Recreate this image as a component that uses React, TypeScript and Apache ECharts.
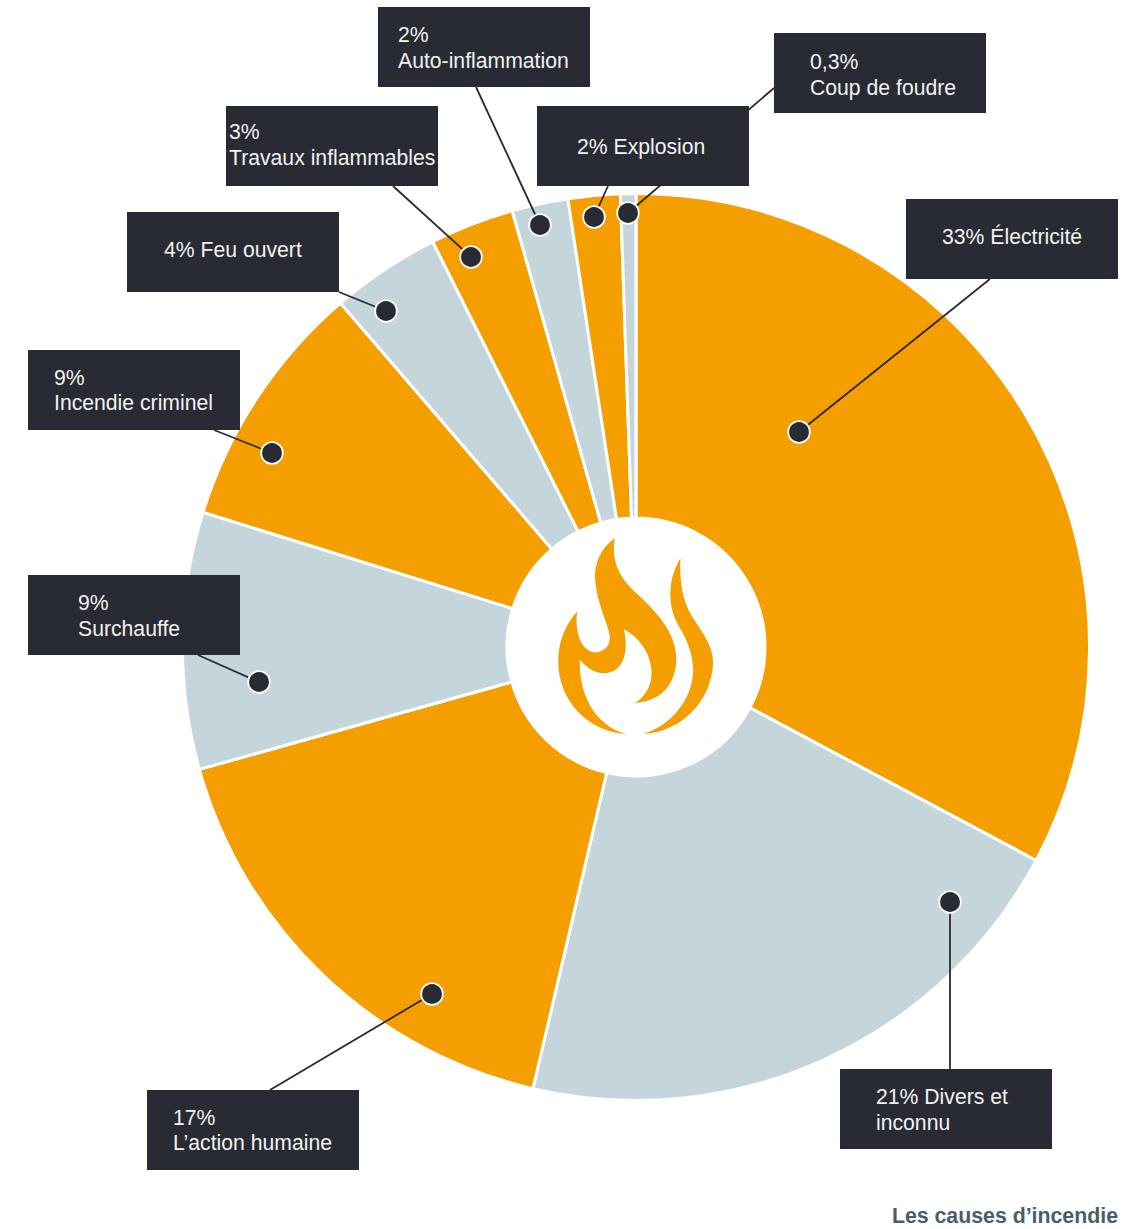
import React, { useEffect, useRef } from "react";
import * as echarts from "echarts";

const causes = ["Électricité", "Divers et inconnu", "L’action humaine", "Surchauffe", "Incendie criminel", "Feu ouvert", "Travaux inflammables", "Auto-inflammation", "Explosion", "Coup de foudre"];
const shares = [32.8, 20.85, 17, 9.15, 8.9, 3.9, 3, 2, 1.85, 0.55];
const shareLabels = ["33%", "21%", "17%", "9%", "9%", "4%", "3%", "2%", "2%", "0,3%"];
const textLines = [
  ["33% Électricité"],
  ["21% Divers et", "inconnu"],
  ["17%", "L’action humaine"],
  ["9%", "Surchauffe"],
  ["9%", "Incendie criminel"],
  ["4% Feu ouvert"],
  ["3%", "Travaux inflammables"],
  ["2%", "Auto-inflammation"],
  ["2% Explosion"],
  ["0,3%", "Coup de foudre"],
];
const title = "Les causes d’incendie";

const ORANGE = "#f59e00";
const BLUE = "#c4d6dc";
const DARK = "#282b33";
const sliceColors = [ORANGE, BLUE, ORANGE, BLUE, ORANGE, BLUE, ORANGE, BLUE, ORANGE, BLUE];

// layout only: box top-left, text x, line baselines centre y, leader start, dot
const boxPos = [[906, 199], [840, 1069], [147, 1090], [28, 575], [28, 350], [127, 212], [226, 106], [378, 7], [537, 106], [774, 33]];
const textX = [942, 876, 173, 78, 54, 164, 229, 398, 577, 810];
const textY = [[236], [1096, 1122], [1117, 1142], [602, 628], [377, 402], [249], [131, 157], [34, 60], [146], [61, 87]];
const leaderFrom = [[990, 279], [950, 1069], [270, 1090], [198, 655], [214, 430], [339, 292], [393, 186], [476, 87], [608, 186], [774, 88]];
const dots = [[799, 432], [950, 902], [432, 994], [259, 682], [272, 453], [386, 311], [471, 257], [540, 225], [594, 217], [628, 213]];

const flamePath =
  "M405 115C392 190 425 240 470 280C530 335 590 400 590 480C585 570 530 605 465 610C500 590 518 550 515 510C510 455 475 410 432 388C445 440 440 520 370 520C340 520 318 500 300 480C295 580 345 680 440 703C320 695 235 600 235 485C235 420 260 370 292 335C283 400 305 458 350 458C380 452 390 435 390 410C385 370 345 300 345 220C350 170 375 135 405 115Z" +
  "M602 175C598 250 610 310 640 355C670 400 700 440 700 490C695 600 610 695 490 703C570 680 640 600 640 510C640 450 610 400 595 375C575 340 570 300 572 270C575 225 590 195 602 175Z";

echarts.graphic.registerShape("flame", echarts.graphic.extendPath(flamePath, {}) as any);

export default function App() {
  const ref = useRef<HTMLDivElement>(null);
  useEffect(() => {
    const chart = echarts.init(ref.current!, undefined, { renderer: "svg" });
    const graphics: any[] = [];
    causes.forEach((_, i) => {
      graphics.push({
        type: "line",
        z: 10,
        shape: { x1: leaderFrom[i][0], y1: leaderFrom[i][1], x2: dots[i][0], y2: dots[i][1] },
        style: { stroke: DARK, lineWidth: 1.8 },
      });
    });
    causes.forEach((_, i) => {
      graphics.push({
        type: "rect",
        z: 11,
        shape: { x: boxPos[i][0], y: boxPos[i][1], width: 212, height: 80 },
        style: { fill: DARK },
      });
      textLines[i].forEach((line, j) => {
        graphics.push({
          type: "text",
          z: 12,
          x: textX[i],
          y: textY[i][j],
          style: {
            text: line,
            fill: "#f2f2f2",
            font: "21.2px 'Liberation Sans', Arial, sans-serif",
            textAlign: "left",
            textVerticalAlign: "middle",
          },
        });
      });
      graphics.push({
        type: "circle",
        z: 13,
        shape: { cx: dots[i][0], cy: dots[i][1], r: 10.8 },
        style: { fill: DARK, stroke: "#ffffff", lineWidth: 1.8 },
      });
    });
    graphics.push({
      type: "flame",
      z: 14,
      x: 480,
      y: 500,
      scaleX: 1 / 3,
      scaleY: 1 / 3,
      style: { fill: ORANGE },
    });
    graphics.push({
      type: "text",
      z: 14,
      x: 1118,
      y: 1216,
      style: {
        text: title,
        fill: "#4a5d6b",
        font: "bold 21.3px 'Liberation Sans', Arial, sans-serif",
        textAlign: "right",
        textVerticalAlign: "middle",
      },
    });
    chart.setOption({
      animation: false,
      backgroundColor: "#ffffff",
      series: [
        {
          type: "pie",
          center: [636, 647],
          radius: [129, 453.5],
          startAngle: 90,
          clockwise: true,
          silent: true,
          label: { show: false },
          labelLine: { show: false },
          itemStyle: { borderColor: "#ffffff", borderWidth: 3 },
          data: causes.map((name, i) => ({
            name: `${shareLabels[i]} ${name}`,
            value: shares[i],
            itemStyle: { color: sliceColors[i] },
          })),
        },
      ],
      graphic: { elements: graphics },
    });
    return () => chart.dispose();
  }, []);
  return <div ref={ref} style={{ position: "fixed", left: 0, top: 0, width: 1123, height: 1229 }} />;
}
